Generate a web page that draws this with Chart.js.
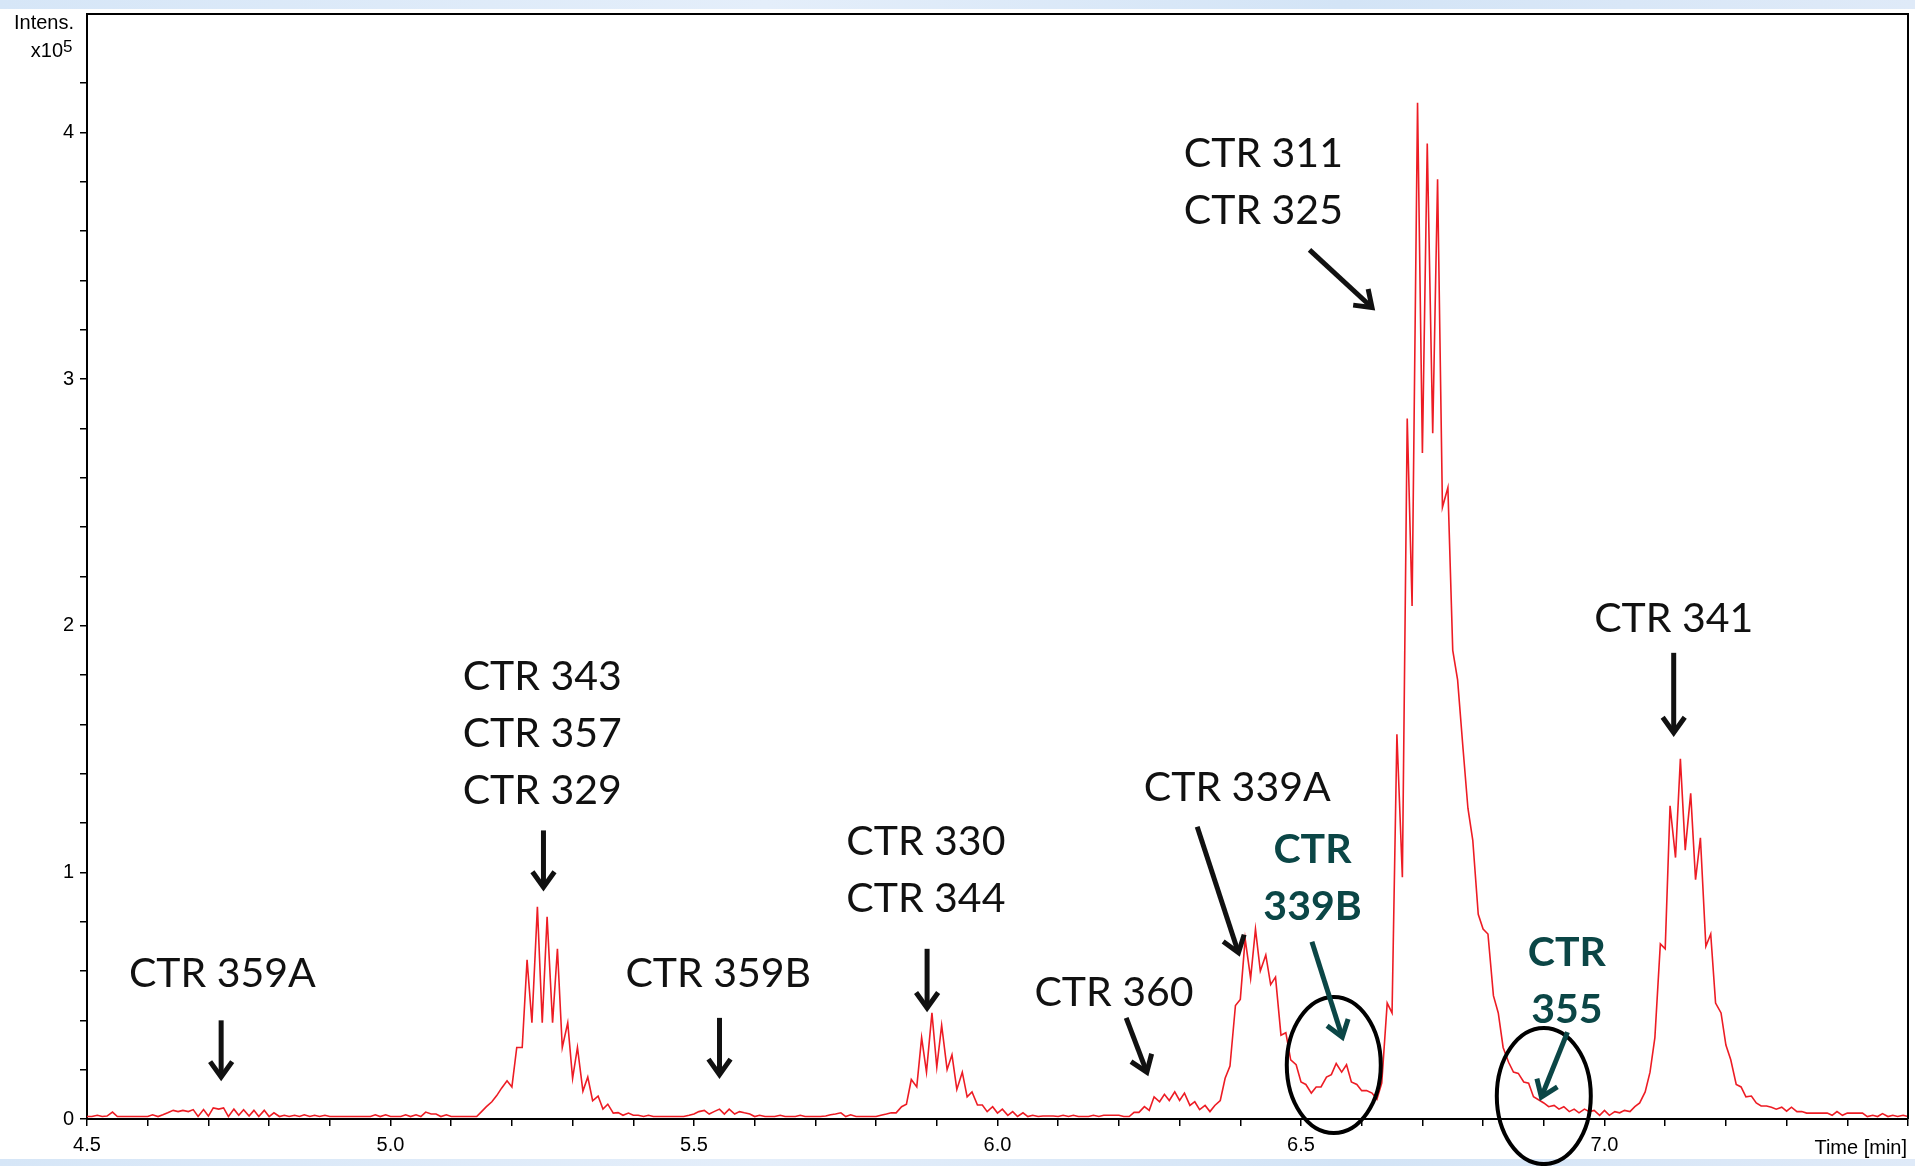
<!DOCTYPE html>
<html lang="en">
<head>
<meta charset="UTF-8">
<title>EIC - CTR peaks</title>
<script src="https://cdn.jsdelivr.net/npm/chart.js"></script>
<style>
  html, body { margin: 0; padding: 0; background: #fff; }
  canvas { display: block; }
</style>
</head>
<body>
<canvas id="eic" width="1915" height="1166"></canvas>
<script>
// retention time [min], one scan every 0.5 s
const timeMin = [
  4.500,4.508,4.517,4.525,4.533,4.542,4.550,4.558,4.567,4.575,4.583,4.592,
  4.600,4.608,4.617,4.625,4.633,4.642,4.650,4.658,4.667,4.675,4.683,4.692,
  4.700,4.708,4.717,4.725,4.733,4.742,4.750,4.758,4.767,4.775,4.783,4.792,
  4.800,4.808,4.817,4.825,4.833,4.842,4.850,4.858,4.867,4.875,4.883,4.892,
  4.900,4.908,4.917,4.925,4.933,4.942,4.950,4.958,4.967,4.975,4.983,4.992,
  5.000,5.008,5.017,5.025,5.033,5.042,5.050,5.058,5.067,5.075,5.083,5.092,
  5.100,5.108,5.117,5.125,5.133,5.142,5.150,5.158,5.167,5.175,5.183,5.192,
  5.200,5.208,5.217,5.225,5.233,5.242,5.250,5.258,5.267,5.275,5.283,5.292,
  5.300,5.308,5.317,5.325,5.333,5.342,5.350,5.358,5.367,5.375,5.383,5.392,
  5.400,5.408,5.417,5.425,5.433,5.442,5.450,5.458,5.467,5.475,5.483,5.492,
  5.500,5.508,5.517,5.525,5.533,5.542,5.550,5.558,5.567,5.575,5.583,5.592,
  5.600,5.608,5.617,5.625,5.633,5.642,5.650,5.658,5.667,5.675,5.683,5.692,
  5.700,5.708,5.717,5.725,5.733,5.742,5.750,5.758,5.767,5.775,5.783,5.792,
  5.800,5.808,5.817,5.825,5.833,5.842,5.850,5.858,5.867,5.875,5.883,5.892,
  5.900,5.908,5.917,5.925,5.933,5.942,5.950,5.958,5.967,5.975,5.983,5.992,
  6.000,6.008,6.017,6.025,6.033,6.042,6.050,6.058,6.067,6.075,6.083,6.092,
  6.100,6.108,6.117,6.125,6.133,6.142,6.150,6.158,6.167,6.175,6.183,6.192,
  6.200,6.208,6.217,6.225,6.233,6.242,6.250,6.258,6.267,6.275,6.283,6.292,
  6.300,6.308,6.317,6.325,6.333,6.342,6.350,6.358,6.367,6.375,6.383,6.392,
  6.400,6.408,6.417,6.425,6.433,6.442,6.450,6.458,6.467,6.475,6.483,6.492,
  6.500,6.508,6.517,6.525,6.533,6.542,6.550,6.558,6.567,6.575,6.583,6.592,
  6.600,6.608,6.617,6.625,6.633,6.642,6.650,6.658,6.667,6.675,6.683,6.692,
  6.700,6.708,6.717,6.725,6.733,6.742,6.750,6.758,6.767,6.775,6.783,6.792,
  6.800,6.808,6.817,6.825,6.833,6.842,6.850,6.858,6.867,6.875,6.883,6.892,
  6.900,6.908,6.917,6.925,6.933,6.942,6.950,6.958,6.967,6.975,6.983,6.992,
  7.000,7.008,7.017,7.025,7.033,7.042,7.050,7.058,7.067,7.075,7.083,7.092,
  7.100,7.108,7.117,7.125,7.133,7.142,7.150,7.158,7.167,7.175,7.183,7.192,
  7.200,7.208,7.217,7.225,7.233,7.242,7.250,7.258,7.267,7.275,7.283,7.292,
  7.300,7.308,7.317,7.325,7.333,7.342,7.350,7.358,7.367,7.375,7.383,7.392,
  7.400,7.408,7.417,7.425,7.433,7.442,7.450,7.458,7.467,7.475,7.483,7.492,
  7.500
];

// intensity, x10^5 counts
const intensity = [
  0.010,0.010,0.015,0.010,0.012,0.028,0.010,0.010,0.010,0.010,0.010,0.010,
  0.010,0.017,0.010,0.017,0.025,0.035,0.030,0.035,0.030,0.038,0.010,0.038,
  0.012,0.045,0.040,0.045,0.010,0.040,0.015,0.038,0.012,0.035,0.010,0.035,
  0.010,0.025,0.010,0.015,0.010,0.015,0.010,0.017,0.010,0.015,0.010,0.015,
  0.010,0.010,0.010,0.010,0.010,0.010,0.010,0.010,0.010,0.017,0.010,0.017,
  0.010,0.010,0.010,0.017,0.010,0.017,0.010,0.028,0.020,0.020,0.010,0.017,
  0.010,0.010,0.010,0.010,0.010,0.010,0.030,0.050,0.070,0.095,0.125,0.155,
  0.130,0.290,0.290,0.645,0.390,0.860,0.390,0.820,0.390,0.690,0.290,0.390,
  0.165,0.290,0.113,0.170,0.074,0.093,0.040,0.060,0.024,0.026,0.015,0.024,
  0.015,0.015,0.010,0.015,0.010,0.010,0.010,0.010,0.010,0.010,0.010,0.015,
  0.020,0.030,0.035,0.020,0.030,0.040,0.020,0.040,0.020,0.030,0.025,0.020,
  0.010,0.015,0.010,0.010,0.010,0.015,0.010,0.010,0.010,0.015,0.010,0.010,
  0.010,0.010,0.012,0.017,0.020,0.025,0.010,0.017,0.010,0.010,0.010,0.010,
  0.010,0.015,0.020,0.025,0.025,0.050,0.060,0.160,0.130,0.330,0.190,0.430,
  0.210,0.380,0.200,0.260,0.120,0.190,0.090,0.110,0.057,0.057,0.030,0.050,
  0.024,0.040,0.015,0.030,0.010,0.025,0.010,0.015,0.010,0.012,0.012,0.012,
  0.010,0.015,0.010,0.015,0.010,0.010,0.010,0.015,0.010,0.015,0.015,0.015,
  0.015,0.010,0.010,0.027,0.027,0.050,0.035,0.090,0.070,0.100,0.075,0.110,
  0.075,0.105,0.055,0.070,0.038,0.055,0.030,0.055,0.075,0.165,0.215,0.460,
  0.485,0.730,0.570,0.770,0.600,0.665,0.545,0.575,0.340,0.350,0.240,0.220,
  0.150,0.140,0.105,0.130,0.130,0.170,0.180,0.225,0.190,0.220,0.150,0.140,
  0.115,0.115,0.105,0.080,0.146,0.470,0.430,1.560,0.980,2.840,2.080,4.120,
  2.700,3.955,2.780,3.810,2.480,2.560,1.900,1.780,1.500,1.260,1.130,0.830,
  0.770,0.750,0.500,0.430,0.290,0.230,0.190,0.185,0.150,0.145,0.090,0.077,
  0.065,0.050,0.055,0.040,0.050,0.030,0.040,0.025,0.040,0.030,0.035,0.015,
  0.035,0.015,0.030,0.025,0.035,0.030,0.050,0.065,0.110,0.190,0.330,0.710,
  0.690,1.270,1.060,1.460,1.090,1.320,0.970,1.140,0.700,0.750,0.470,0.430,
  0.300,0.240,0.140,0.130,0.090,0.093,0.065,0.053,0.053,0.048,0.040,0.048,
  0.032,0.048,0.030,0.030,0.024,0.024,0.024,0.024,0.024,0.015,0.030,0.015,
  0.024,0.024,0.024,0.024,0.010,0.015,0.010,0.022,0.010,0.015,0.010,0.015,
  0.010
];

const xTickLabels = [4.5, 5.0, 5.5, 6.0, 6.5, 7.0];
const yTickLabels = [0, 1, 2, 3, 4];

// compound call-outs: text anchor and arrow given in (time, intensity)
const callouts = [
  { lines: ['CTR 359A'], at: [4.723, 0.595], arrow: [[4.721, 0.40], [4.721, 0.17]] },
  { lines: ['CTR 343', 'CTR 357', 'CTR 329'], at: [5.250, 1.80], arrow: [[5.252, 1.17], [5.252, 0.94]] },
  { lines: ['CTR 359B'], at: [5.540, 0.595], arrow: [[5.542, 0.41], [5.542, 0.18]] },
  { lines: ['CTR 330', 'CTR 344'], at: [5.882, 1.13], arrow: [[5.884, 0.69], [5.884, 0.45]] },
  { lines: ['CTR 360'], at: [6.192, 0.52], arrow: [[6.212, 0.41], [6.246, 0.19]] },
  { lines: ['CTR 339A'], at: [6.395, 1.351], arrow: [[6.329, 1.185], [6.397, 0.674]] },
  { lines: ['CTR 311', 'CTR 325'], at: [6.438, 3.92], arrow: [[6.514, 3.524], [6.617, 3.29]] },
  { lines: ['CTR 341'], at: [7.114, 2.037], arrow: [[7.114, 1.89], [7.114, 1.566]] },
  { lines: ['CTR', '339B'], at: [6.519, 1.099], arrow: [[6.518, 0.719], [6.568, 0.332]], minor: true },
  { lines: ['CTR', '355'], at: [6.938, 0.682], arrow: [[6.939, 0.352], [6.896, 0.089]], minor: true }
];
// ellipses around the minor peaks: centre in (time, intensity), radii in px
const rings = [
  { at: [6.554, 0.219], rx: 47, ry: 68 },
  { at: [6.900, 0.093], rx: 47, ry: 68 }
];

const axisFont = "'Liberation Sans Narrow', 'Liberation Sans', Arial, sans-serif";
const labelFont = "Lato, 'Open Sans', sans-serif";
const teal = '#0b4646';

function arrow(ctx, x0, y0, x1, y1, color) {
  const a = Math.atan2(y1 - y0, x1 - x0);
  ctx.strokeStyle = color;
  ctx.lineWidth = 5;
  ctx.lineCap = 'butt';
  ctx.lineJoin = 'miter';
  ctx.beginPath();
  ctx.moveTo(x0, y0);
  ctx.lineTo(x1 - 3 * Math.cos(a), y1 - 3 * Math.sin(a));
  ctx.stroke();
  const h = 19, s = 0.62;
  ctx.beginPath();
  ctx.moveTo(x1 - h * Math.cos(a - s), y1 - h * Math.sin(a - s));
  ctx.lineTo(x1, y1);
  ctx.lineTo(x1 - h * Math.cos(a + s), y1 - h * Math.sin(a + s));
  ctx.stroke();
}

const slideBackground = {
  id: 'slideBackground',
  beforeDraw(chart) {
    const { ctx, width, height } = chart;
    ctx.save();
    ctx.fillStyle = '#fff';
    ctx.fillRect(0, 0, width, height);
    let g = ctx.createLinearGradient(0, 0, width, 0);
    g.addColorStop(0, '#d6e6f7');
    g.addColorStop(0.4, '#e4eefa');
    g.addColorStop(0.7, '#d3e4f6');
    g.addColorStop(1, '#dfeaf8');
    ctx.fillStyle = g;
    ctx.fillRect(0, 0, width, 9);
    ctx.fillRect(0, height - 7, width, 7);
    ctx.restore();
  }
};

const annotations = {
  id: 'annotations',
  afterDraw(chart) {
    const { ctx, chartArea: a, scales: { x, y } } = chart;
    ctx.save();

    // frame
    ctx.strokeStyle = '#000';
    ctx.lineWidth = 2;
    ctx.beginPath();
    ctx.moveTo(a.left, a.top);
    ctx.lineTo(a.right, a.top);
    ctx.lineTo(a.right, a.bottom);
    ctx.stroke();

    // axis captions
    ctx.fillStyle = '#000';
    ctx.textBaseline = 'alphabetic';
    ctx.textAlign = 'right';
    ctx.font = '20px ' + axisFont;
    ctx.fillText('Intens.', 74, 29);
    ctx.fillText('x10', 63, 57);
    ctx.textAlign = 'left';
    ctx.font = '17px ' + axisFont;
    ctx.fillText('5', 63, 52);
    ctx.textAlign = 'right';
    ctx.font = '20px ' + axisFont;
    ctx.fillText('Time [min]', a.right - 1, 1154);

    // rings
    ctx.strokeStyle = '#000';
    ctx.lineWidth = 4;
    rings.forEach(r => {
      ctx.beginPath();
      ctx.ellipse(x.getPixelForValue(r.at[0]), y.getPixelForValue(r.at[1]), r.rx, r.ry, 0, 0, Math.PI * 2);
      ctx.stroke();
    });

    // call-outs
    callouts.forEach(c => {
      const color = c.minor ? teal : '#111';
      ctx.fillStyle = color;
      ctx.font = (c.minor ? 'bold ' : '') + '41px ' + labelFont;
      ctx.textAlign = 'center';
      const cx = x.getPixelForValue(c.at[0]);
      const cy = y.getPixelForValue(c.at[1]);
      c.lines.forEach((t, i) => ctx.fillText(t, cx, cy + i * 57 + 15));
      const [p, q] = c.arrow;
      arrow(ctx, x.getPixelForValue(p[0]), y.getPixelForValue(p[1]),
        x.getPixelForValue(q[0]), y.getPixelForValue(q[1]), color);
    });
    ctx.restore();
  }
};

const onTick = (list, v) => list.some(l => Math.abs(l - v) < 1e-6);

new Chart(document.getElementById('eic'), {
  type: 'line',
  data: {
    labels: timeMin,
    datasets: [{
      data: intensity,
      borderColor: '#ed1c24',
      borderWidth: 1.6,
      pointRadius: 0,
      tension: 0,
      fill: false
    }]
  },
  options: {
    responsive: false,
    animation: false,
    devicePixelRatio: 1,
    layout: { padding: { left: 0, right: 5, top: 14, bottom: 0 } },
    plugins: { legend: { display: false }, tooltip: { enabled: false } },
    scales: {
      x: {
        type: 'linear',
        min: 4.5,
        max: 7.5,
        afterFit: s => { s.height = 47; },
        afterBuildTicks: s => { s.ticks = s.ticks.filter(t => Math.abs(t.value * 10 - Math.round(t.value * 10)) < 1e-6); },
        ticks: {
          stepSize: 0.1,
          autoSkip: false,
          maxRotation: 0,
          padding: 7,
          color: '#000',
          font: { family: axisFont, size: 20 },
          callback: v => onTick(xTickLabels, v) ? v.toFixed(1) : ''
        },
        grid: { drawOnChartArea: false, drawTicks: true, tickLength: 7, color: '#000', lineWidth: 1.5 },
        border: { display: true, color: '#000', width: 2 }
      },
      y: {
        min: 0,
        max: 4.48,
        // fixed axis width; no extra room for the (blank) top tick label
        afterFit: s => { s.width = 87; s.paddingTop = 0; s.paddingBottom = 0; },
        afterBuildTicks: s => { s.ticks = s.ticks.filter(t => Math.abs(t.value * 5 - Math.round(t.value * 5)) < 1e-6); },
        ticks: {
          stepSize: 0.2,
          autoSkip: false,
          padding: 6,
          color: '#000',
          font: { family: axisFont, size: 20 },
          callback: v => onTick(yTickLabels, v) ? String(Math.round(v)) : ''
        },
        grid: { drawOnChartArea: false, drawTicks: true, tickLength: 7, color: '#000', lineWidth: 1.5 },
        border: { display: true, color: '#000', width: 2 }
      }
    }
  },
  plugins: [slideBackground, annotations]
});
</script>
</body>
</html>
